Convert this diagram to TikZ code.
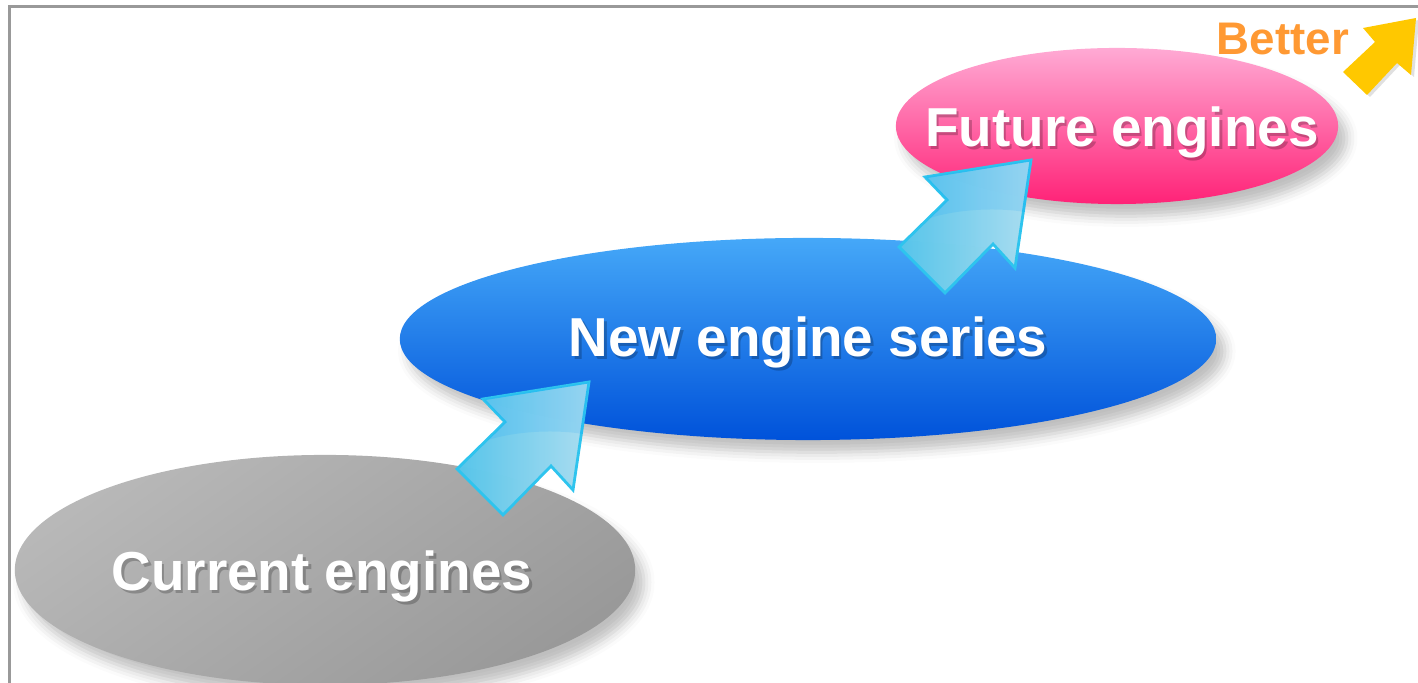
\documentclass[tikz,border=0pt]{standalone}
\usepackage{fontspec}
\setmainfont{Liberation Sans}
\usetikzlibrary{shapes.geometric,shadows.blur}

\definecolor{framegray}{HTML}{999999}
\definecolor{curtop}{HTML}{B8B8B8}
\definecolor{curbot}{HTML}{999999}
\definecolor{newtop}{HTML}{45A8F8}
\definecolor{newbot}{HTML}{0052DA}
\definecolor{futtop}{HTML}{FFAAD4}
\definecolor{futbot}{HTML}{FF2277}
\definecolor{arrlo}{HTML}{5ACFF6}
\definecolor{arrhi}{HTML}{B4E8FC}
\definecolor{arrline}{HTML}{2EC4EE}
\definecolor{betterorange}{HTML}{FF9933}
\definecolor{betteryellow}{HTML}{FFC800}

\begin{document}
\begin{tikzpicture}[x=0.01cm, y=-0.01cm,
    stage/.style={ellipse, inner sep=0pt,
        blur shadow={shadow xshift=2.5pt, shadow yshift=-3.5pt, shadow blur radius=3pt, shadow opacity=25}},
    lbl/.style={anchor=base, font=\fontsize{15.6}{18}\selectfont\bfseries, text=white},
    lblshade/.style={lbl, text=black, text opacity=0.22},
    stepup/.pic={
        \fill[left color=arrlo, right color=arrhi, fill opacity=0.95, draw=arrline, line width=0.8pt, line join=miter]
            (109,-110) -- (3,-93) -- (25,-70) -- (-23,-23) -- (23,23) -- (71,-26) -- (93,-2) -- cycle;
        % faint band over the head
        \fill[blue!40!cyan, fill opacity=0.12]
            (109,-110) -- (3,-93) -- (25,-70) -- (8,-52) .. controls (40,-62) and (80,-62) .. (103,-58) -- cycle;
    },
]
\useasboundingbox (0,0) rectangle (1418,683);

% frame, only left and top edges are visible
\draw[framegray, line width=1pt] (9.5,690) |- (1425,6.5);

% the three stages
\node[stage, minimum width=6.2cm, minimum height=2.3cm,
      top color=curtop, bottom color=curbot, shading angle=35] (cur) at (325,570) {};
\node[stage, minimum width=8.16cm, minimum height=2.02cm,
      top color=newtop, bottom color=newbot] (newser) at (808,339) {};
\node[stage, minimum width=4.42cm, minimum height=1.56cm,
      top color=futtop, bottom color=futbot] (fut) at (1117,126) {};

% labels with a soft drop shade
\node[lblshade] at (324.5,593.5) {Current engines};
\node[lbl] (curtxt) at (322,591) {Current engines};
\node[lblshade] at (810.5,359.5) {New engine series};
\node[lbl] (newtxt) at (808,357) {New engine series};
\node[lblshade] at (1124.5,149.5) {Future engines};
\node[lbl] (futtxt) at (1122,147) {Future engines};

% steps between the stages
\pic (up1) at (480,492) {stepup};
\pic (up2) at (922,270) {stepup};

% better corner mark
\node[anchor=base, font=\fontsize{13}{15}\selectfont\bfseries, text=betterorange] (better) at (1283,55) {Better};
\fill[black, opacity=0.12]
    (1419,20) -- (1366,30) -- (1378,44) -- (1346,74) -- (1370,97) -- (1400,65) -- (1414,77) -- cycle;
\fill[betteryellow]
    (1416,18) -- (1363,28) -- (1375,42) -- (1343,72) -- (1367,95) -- (1397,63) -- (1411,75) -- cycle;
\end{tikzpicture}
\end{document}
